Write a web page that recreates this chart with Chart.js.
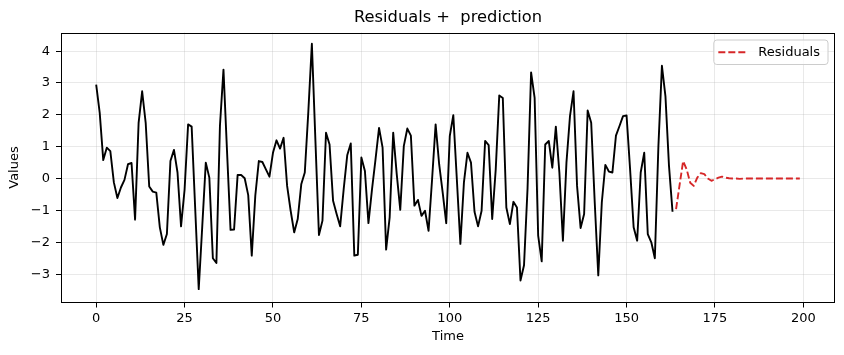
<!DOCTYPE html>
<html><head><meta charset="utf-8">
<script src="https://cdn.jsdelivr.net/npm/chart.js@4"></script>
<style>html,body{margin:0;padding:0;background:#fff;overflow:hidden}canvas{display:block}</style>
</head><body>
<canvas id="c" width="844" height="355"></canvas>
<script>
// ---- data ----
const residuals = [
  2.95, 2.06, 0.58, 0.97, 0.86, -0.12, -0.61, -0.28, -0.04, 0.45,
  0.49, -1.29, 1.75, 2.74, 1.75, -0.25, -0.41, -0.44, -1.53, -2.08,
  -1.74, 0.55, 0.90, 0.19, -1.50, -0.35, 1.70, 1.63, -0.93, -3.47,
  -1.50, 0.50, 0.03, -2.50, -2.65, 1.65, 3.42, 0.87, -1.61, -1.60,
  0.11, 0.11, 0.01, -0.52, -2.42, -0.54, 0.55, 0.52, 0.29, 0.06,
  0.81, 1.20, 0.94, 1.28, -0.23, -1.01, -1.69, -1.27, -0.18, 0.19,
  2.10, 4.23, 1.20, -1.77, -1.32, 1.44, 1.07, -0.70, -1.11, -1.50,
  -0.33, 0.73, 1.10, -2.42, -2.39, 0.66, 0.24, -1.40, -0.35, 0.60,
  1.59, 0.97, -2.23, -1.22, 1.44, 0.14, -0.98, 1.02, 1.57, 1.35,
  -0.85, -0.67, -1.17, -1.01, -1.64, -0.02, 1.70, 0.45, -0.44, -1.40,
  1.33, 1.99, -0.02, -2.05, -0.13, 0.81, 0.50, -1.04, -1.50, -1.01,
  1.18, 1.05, -1.27, 0.29, 2.61, 2.53, -0.91, -1.43, -0.73, -0.91,
  -3.20, -2.72, -0.30, 3.33, 2.53, -1.79, -2.60, 1.07, 1.18, 0.34,
  1.63, 0.19, -1.95, 0.50, 1.96, 2.74, -0.23, -1.55, -1.11, 2.14,
  1.75, -0.75, -3.04, -0.75, 0.43, 0.22, 0.19, 1.35, 1.65, 1.96,
  1.98, 0.29, -1.53, -1.95, 0.19, 0.81, -1.74, -2.00, -2.50, 1.00,
  3.54, 2.58, 0.40, -1.04
];
const predictionStart = 164;
const prediction = [
  -0.96, -0.20, 0.55, 0.29, -0.13, -0.23, 0.03, 0.17, 0.14, 0.00,
  -0.07, -0.02, 0.03, 0.06, 0.03, 0.01, 0.00, 0.00, -0.01, 0.00,
  0.00, 0.00, 0.00, 0.00, 0.00, 0.00, 0.00, 0.00, 0.00, 0.00,
  0.00, 0.00, 0.00, 0.00, 0.00, 0.00
];
const xTickValues = [0, 25, 50, 75, 100, 125, 150, 175, 200];
const yTickValues = [-3, -2, -1, 0, 1, 2, 3, 4];
const titleText = 'Residuals +  prediction';
const xLabel = 'Time';
const yLabel = 'Values';
const legendLabel = 'Residuals';

// ---- chart ----
const FONT = '"DejaVu Sans", "Liberation Sans", sans-serif';
const residualPoints = residuals.map((v, i) => ({ x: i, y: v }));
const predictionPoints = prediction.map((v, i) => ({ x: predictionStart + i, y: v }));
const gridColor = 'rgba(176,176,176,0.35)';
const RED = '#d62728';

const frameLegend = {
  id: 'frameLegend',
  afterDraw(chart) {
    const ctx = chart.ctx, ca = chart.chartArea;
    ctx.save();
    // title, centred over the plotting area
    ctx.font = '16.3px ' + FONT;
    ctx.fillStyle = '#000';
    ctx.textAlign = 'center';
    ctx.textBaseline = 'middle';
    ctx.fillText(titleText, (ca.left + ca.right) / 2, 18);
    // axes frame
    ctx.strokeStyle = '#000';
    ctx.lineWidth = 1;
    ctx.strokeRect(Math.round(ca.left) + 0.5, Math.round(ca.top) + 0.5,
                   Math.round(ca.right - ca.left) - 1, Math.round(ca.bottom - ca.top) - 1);
    // legend
    ctx.font = '13px ' + FONT;
    const tw = ctx.measureText(legendLabel).width;
    const padL = 4.5, sampleW = 28, gap = 12, padR = 8;
    const w = padL + sampleW + gap + tw + padR, h = 24.5;
    const right = ca.right - 7, top = ca.top + 7.5, left = right - w;
    ctx.beginPath();
    ctx.roundRect(left, top, w, h, 3);
    ctx.fillStyle = 'rgba(255,255,255,0.8)';
    ctx.fill();
    ctx.strokeStyle = '#cccccc';
    ctx.stroke();
    const cy = top + h / 2;
    ctx.beginPath();
    ctx.setLineDash([7, 3]);
    ctx.strokeStyle = RED;
    ctx.lineWidth = 1.9;
    ctx.moveTo(left + padL, cy);
    ctx.lineTo(left + padL + sampleW, cy);
    ctx.stroke();
    ctx.setLineDash([]);
    ctx.fillStyle = '#000';
    ctx.textBaseline = 'middle';
    ctx.textAlign = 'left';
    ctx.fillText(legendLabel, left + padL + sampleW + gap, cy + 0.5);
    ctx.restore();
  }
};

new Chart(document.getElementById('c'), {
  type: 'line',
  data: {
    datasets: [
      { label: '', data: residualPoints, borderColor: '#000', borderWidth: 1.9,
        pointRadius: 0, fill: false, tension: 0, borderJoinStyle: 'round', order: 2 },
      { label: legendLabel, data: predictionPoints, borderColor: RED, borderWidth: 1.9,
        borderDash: [7, 3], pointRadius: 0, fill: false, tension: 0, borderJoinStyle: 'round', order: 1 }
    ]
  },
  options: {
    responsive: false,
    devicePixelRatio: 1,
    animation: false,
    layout: { padding: { left: 0, right: 9, top: 32.5, bottom: 0 } },
    plugins: {
      legend: { display: false },
      tooltip: { enabled: false },
      title: { display: false }
    },
    scales: {
      x: {
        type: 'linear', min: -9.95, max: 208.95,
        afterBuildTicks: s => { s.ticks = xTickValues.map(v => ({ value: v })); },
        afterFit: s => { s.height = 52.5; },
        grid: { color: gridColor, lineWidth: 0.8, tickColor: '#000', tickLength: 5, tickWidth: 1 },
        border: { display: false },
        ticks: { color: '#000', padding: 3, maxRotation: 0, autoSkip: false,
                 font: { family: FONT, size: 13 }, callback: v => String(v) },
        title: { display: true, text: xLabel, color: '#000',
                 font: { family: FONT, size: 13, lineHeight: 1.2 }, padding: { top: 0, bottom: 10.2 } }
      },
      y: {
        type: 'linear', min: -3.89, max: 4.585,
        afterBuildTicks: s => { s.ticks = yTickValues.map(v => ({ value: v })); },
        afterFit: s => { s.width = 61; },
        grid: { color: gridColor, lineWidth: 0.8, tickColor: '#000', tickLength: 5, tickWidth: 1 },
        border: { display: false },
        ticks: { color: '#000', padding: 6, autoSkip: false,
                 font: { family: FONT, size: 13 },
                 callback: v => v < 0 ? '\u2212' + Math.abs(v) : String(v) },
        title: { display: true, text: yLabel, color: '#000',
                 font: { family: FONT, size: 13, lineHeight: 1.2 }, padding: { top: 7.2, bottom: 0 } }
      }
    }
  },
  plugins: [frameLegend]
});
</script>
</body></html>
